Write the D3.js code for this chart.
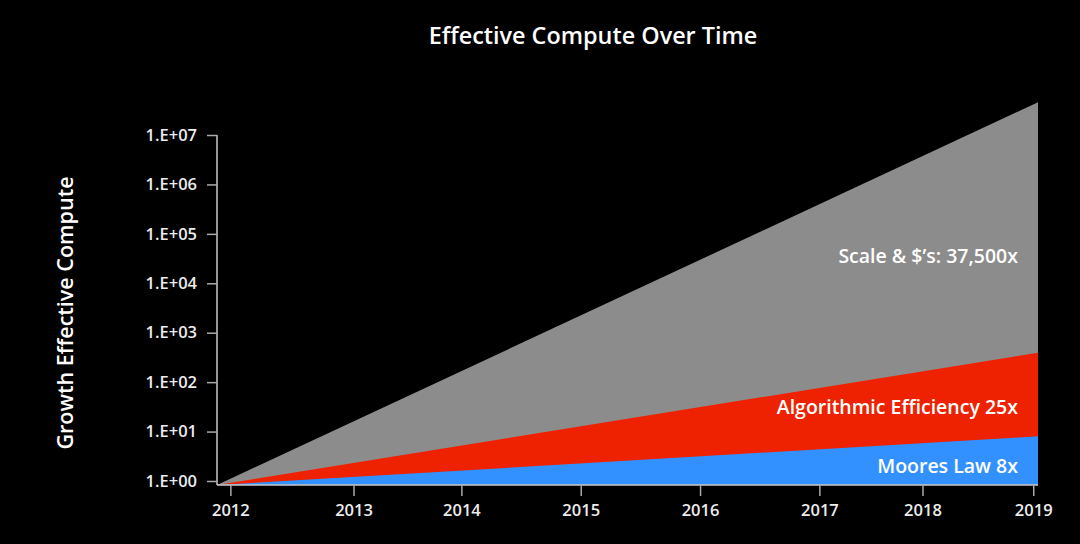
<!DOCTYPE html>
<html>
<head>
<meta charset="utf-8">
<script src="https://cdn.jsdelivr.net/npm/d3@7"></script>
<style>
  html, body { margin: 0; padding: 0; background: #000; }
  svg { display: block; }
  text { font-family: "Open Sans", "Noto Sans", sans-serif; }
</style>
</head>
<body>
<svg id="chart" width="1080" height="544"></svg>
<script>
// ---- data ----
const title = "Effective Compute Over Time";
const yLabel = "Growth Effective Compute";
// time in months from the start of the series
const seriesMonths = [0, 86];
// cumulative growth at start and end (log scale, stacked bands)
const mooresLaw = [0.83, 8];
const algorithmic = [0.83, 395];
const scaleDollars = [0.83, 4.6e7];
const seriesNames = ["Scale & $\u2019s: 37,500x", "Algorithmic Efficiency 25x", "Moores Law 8x"];
const seriesColors = ["#8c8c8c", "#ee2200", "#3391ff"];
// x ticks: labels and their month positions
const yearLabels = ["2012", "2013", "2014", "2015", "2016", "2017", "2018", "2019"];
const yearMonths = [1.4, 14.3, 25.6, 38.1, 50.6, 63.1, 73.9, 85.5];
const yTickValues = [1, 1e1, 1e2, 1e3, 1e4, 1e5, 1e6, 1e7];
const yTickLabels = ["1.E+00", "1.E+01", "1.E+02", "1.E+03", "1.E+04", "1.E+05", "1.E+06", "1.E+07"];
// label anchor values (month, value)
const labelMonths = [83.9, 83.9, 83.9];
const labelValues = [3.6e4, 31, 2.0];

// ---- layout ----
const svg = d3.select("#chart");
const mLeft = 217, mRight = 1038, mTop = 135, mBottom = 485;

const x = d3.scaleLinear().domain([0, 86]).range([mLeft, mRight]);
const y = d3.scaleLog().domain([0.83, 1e7]).range([mBottom, mTop]);

svg.append("rect").attr("width", 1080).attr("height", 544).attr("fill", "#000");

const rows = seriesMonths.map((m, i) => ({
  m, a: mooresLaw[i], b: algorithmic[i], c: scaleDollars[i]
}));

const bands = [
  { hi: d => d.c, color: seriesColors[0] },
  { hi: d => d.b, color: seriesColors[1] },
  { hi: d => d.a, color: seriesColors[2] }
];

bands.forEach(b => {
  const area = d3.area()
    .x(d => x(d.m))
    .y0(() => y(y.domain()[0]))
    .y1(d => y(b.hi(d)));
  svg.append("path").datum(rows).attr("d", area).attr("fill", b.color);
});

// y axis
const yAxis = svg.append("g")
  .attr("transform", `translate(${mLeft},0)`)
  .call(d3.axisLeft(y).tickValues(yTickValues)
    .tickFormat((d, i) => yTickLabels[i]).tickSize(10).tickPadding(10).tickSizeOuter(0));
yAxis.select(".domain").attr("stroke", "#c8c8c8").attr("stroke-width", 1.5)
  .attr("d", `M0,${mTop}V${mBottom}`);
yAxis.selectAll(".tick line").attr("stroke", "#aaaaaa").attr("stroke-width", 1.5);
yAxis.selectAll(".tick text").attr("fill", "#ececec").attr("font-size", 16.5)
  .attr("font-weight", 600).attr("font-family", "\"Open Sans\", sans-serif");

// x axis
const xAxis = svg.append("g")
  .attr("transform", `translate(0,${mBottom})`)
  .call(d3.axisBottom(x).tickValues(yearMonths)
    .tickFormat((d, i) => yearLabels[i]).tickSize(11).tickPadding(8).tickSizeOuter(0));
xAxis.select(".domain").attr("stroke", "#c8c8c8").attr("stroke-width", 1.5)
  .attr("d", `M${mLeft},0H${mRight}`);
xAxis.selectAll(".tick line").attr("stroke", "#aaaaaa").attr("stroke-width", 1.5);
xAxis.selectAll(".tick text").attr("fill", "#ececec").attr("font-size", 16.5)
  .attr("font-weight", 600).attr("font-family", "\"Open Sans\", sans-serif");

// title
svg.append("text").attr("x", 593).attr("y", 44)
  .attr("text-anchor", "middle").attr("fill", "#fff")
  .attr("font-size", 23.4).attr("font-weight", 600).text(title);

// y label
svg.append("text")
  .attr("transform", "translate(73,313) rotate(-90)")
  .attr("text-anchor", "middle").attr("fill", "#fff")
  .attr("font-size", 21.5).attr("font-weight", 600).text(yLabel);

// series labels
seriesNames.forEach((name, i) => {
  svg.append("text")
    .attr("x", x(labelMonths[i]))
    .attr("y", y(labelValues[i]))
    .attr("dy", "0.35em")
    .attr("text-anchor", "end").attr("fill", "#fff")
    .attr("font-size", 19.5).attr("font-weight", 600).text(name);
});
</script>
</body>
</html>
